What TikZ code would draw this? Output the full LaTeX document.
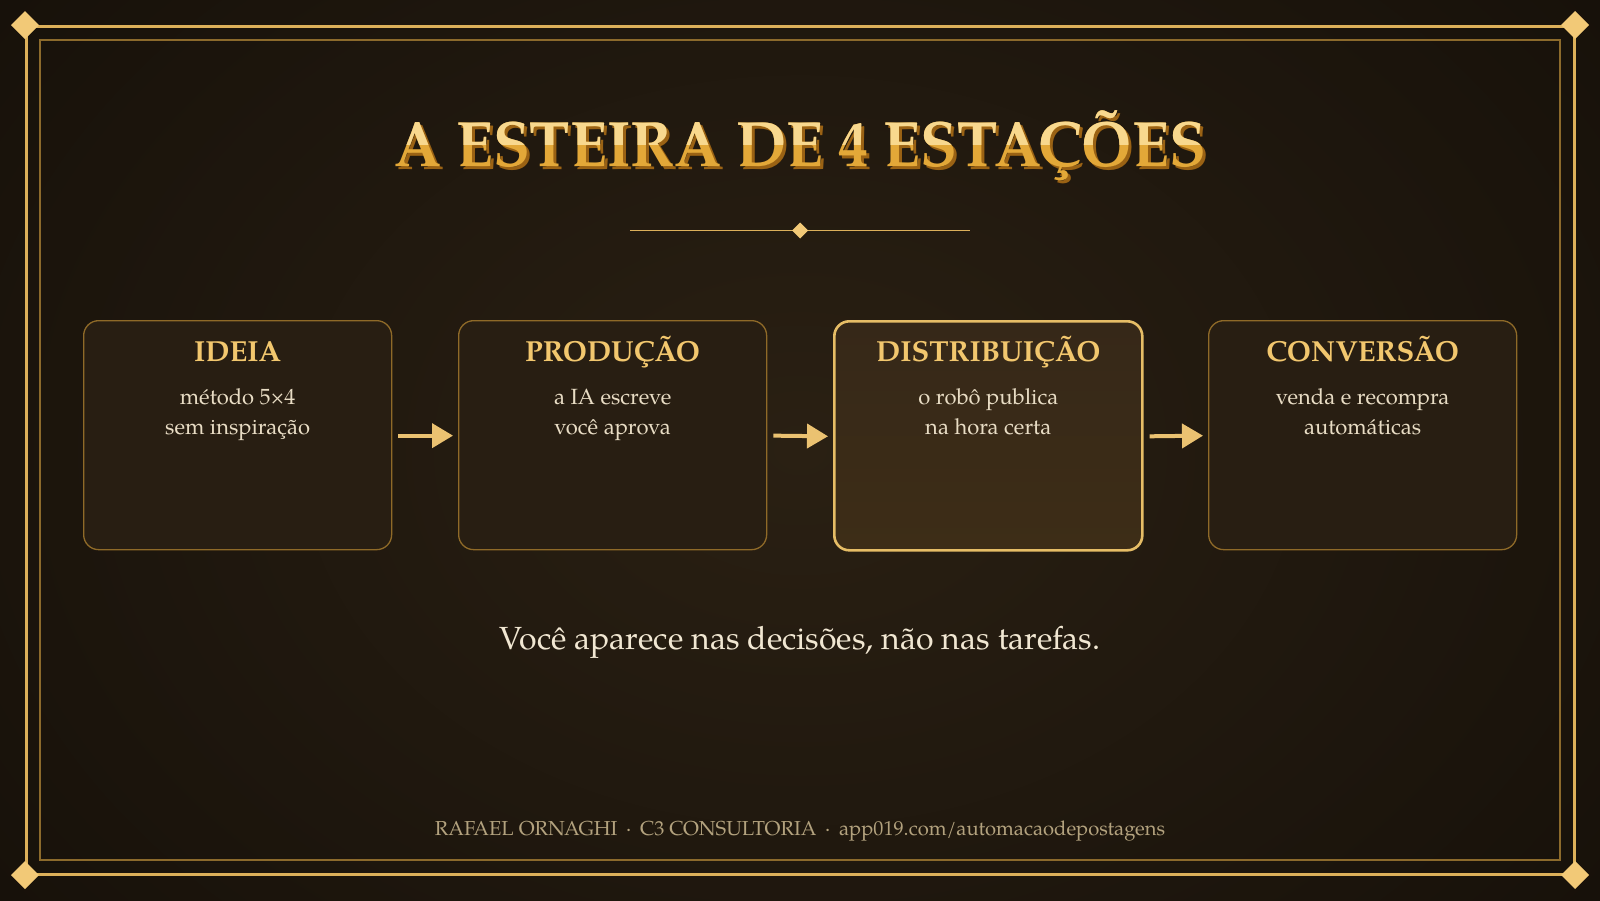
\documentclass[tikz,border=0pt]{standalone}
\usepackage{fontspec}
\setmainfont{TeX Gyre Pagella}
\usetikzlibrary{arrows.meta}
\definecolor{bgin}{HTML}{2A2013}
\definecolor{bgout}{HTML}{17110A}
\definecolor{framegold}{HTML}{DCB05A}
\definecolor{innergold}{HTML}{8C6A2C}
\definecolor{diagold}{HTML}{F2C977}
\definecolor{boxfill}{HTML}{281E12}
\definecolor{boxline}{HTML}{8F6A28}
\definecolor{hitop}{HTML}{362818}
\definecolor{hibot}{HTML}{3D2D17}
\definecolor{hiline}{HTML}{E6BD66}
\definecolor{headc}{HTML}{F2C76E}
\definecolor{bodyc}{HTML}{E8DCC4}
\definecolor{tagc}{HTML}{F1E7D2}
\definecolor{footc}{HTML}{B3A27E}
\definecolor{arrc}{HTML}{EBC271}
\definecolor{tshadow}{HTML}{9A6214}
\definecolor{tlow}{HTML}{E3A838}
\definecolor{thigh}{HTML}{F8D88E}
\tikzset{
  stbox/.style={draw=boxline, line width=1.3pt, fill=boxfill, rounded corners=15pt,
    minimum width=308pt, minimum height=229pt, anchor=north west, inner sep=0pt},
  stboxhi/.style={stbox, draw=hiline, line width=2.6pt, fill=none, top color=hitop, bottom color=hibot},
  sthead/.style={font=\fontsize{29}{34}\selectfont\bfseries, text=headc, anchor=base, inner sep=0pt},
  stbody/.style={font=\fontsize{22}{26}\selectfont, text=bodyc, anchor=base, inner sep=0pt},
  starr/.style={draw=arrc, line width=4pt, -{Triangle[length=21pt,width=24pt]}, shorten >=0pt},
  ttl/.style={font=\fontsize{64}{70}\selectfont\bfseries, anchor=base, inner sep=0pt},
  cornerdia/.style={fill=diagold, draw=none},
}
\newcommand{\ttltext}{\scalebox{0.943}[1]{A ESTEIRA DE 4 ESTAÇÕES}}
\begin{document}
\begin{tikzpicture}[x=1pt,y=-1pt]
\useasboundingbox (0,0) rectangle (1600,900);
% background
\fill[bgout] (0,0) rectangle (1600,900);
\shade[inner color=bgin, outer color=bgout] (-200,-300) rectangle (1800,1200);
% frames
\draw[framegold, line width=3pt] (26,26) rectangle (1574,874);
\draw[innergold, line width=1.5pt] (40,40) rectangle (1560,860);
\foreach \cx/\cy in {25/25,1575/25,25/875,1575/875}{
  \fill[cornerdia] (\cx-14,\cy) -- (\cx,\cy-14) -- (\cx+14,\cy) -- (\cx,\cy+14) -- cycle;
}
% title
\node[ttl, text=tshadow] (tsh) at (803,169) {\ttltext};
\node[ttl, text=tlow] (title) at (800,166) {\ttltext};
\begin{scope}
\clip (0,0) rectangle (1600,144);
\node[ttl, text=thigh] (titlehi) at (800,166) {\ttltext};
\end{scope}
% separator
\coordinate (sepl) at (630,230.5);
\coordinate (sepr) at (970,230.5);
\draw[framegold, line width=1.5pt] (sepl) -- (sepr);
\fill[diagold] (792,230.5) -- (800,222.5) -- (808,230.5) -- (800,238.5) -- cycle;
% boxes
\node[stbox] (b1) at (83,320) {};
\node[stbox] (b2) at (458,320) {};
\node[stboxhi] (b3) at (833,320) {};
\node[stbox] (b4) at (1208,320) {};
% headings and text
\node[sthead] (h1) at ([yshift=-41pt]b1.north) {IDEIA};
\node[stbody] (t1a) at ([yshift=-84pt]b1.north) {método 5×4};
\node[stbody] (t1b) at ([yshift=-114pt]b1.north) {sem inspiração};
\node[sthead] (h2) at ([yshift=-41pt]b2.north) {PRODUÇÃO};
\node[stbody] (t2a) at ([yshift=-84pt]b2.north) {a IA escreve};
\node[stbody] (t2b) at ([yshift=-114pt]b2.north) {você aprova};
\node[sthead] (h3) at ([yshift=-41pt]b3.north) {DISTRIBUIÇÃO};
\node[stbody] (t3a) at ([yshift=-84pt]b3.north) {o robô publica};
\node[stbody] (t3b) at ([yshift=-114pt]b3.north) {na hora certa};
\node[sthead] (h4) at ([yshift=-41pt]b4.north) {CONVERSÃO};
\node[stbody] (t4a) at ([yshift=-84pt]b4.north) {venda e recompra};
\node[stbody] (t4b) at ([yshift=-114pt]b4.north) {automáticas};
% arrows
\draw[starr] ([xshift=6pt,yshift=-0.5pt]b1.east) -- ([xshift=-5pt,yshift=-0.5pt]b2.west);
\draw[starr] ([xshift=6pt,yshift=-0.5pt]b2.east) -- ([xshift=-5pt,yshift=-0.5pt]b3.west);
\draw[starr] ([xshift=6pt,yshift=-0.5pt]b3.east) -- ([xshift=-5pt,yshift=-0.5pt]b4.west);
% tagline
\node[font=\fontsize{32}{37}\selectfont, text=tagc, anchor=base, inner sep=0pt] (tag) at (800,649) {Você aparece nas decisões, não nas tarefas.};
% footer
\node[font=\fontsize{20.2}{24}\selectfont, text=footc, anchor=base, inner sep=0pt] (foot) at (800,835) {RAFAEL ORNAGHI \,·\, C3 CONSULTORIA \,·\, app019.com/automacaodepostagens};
\end{tikzpicture}
\end{document}
